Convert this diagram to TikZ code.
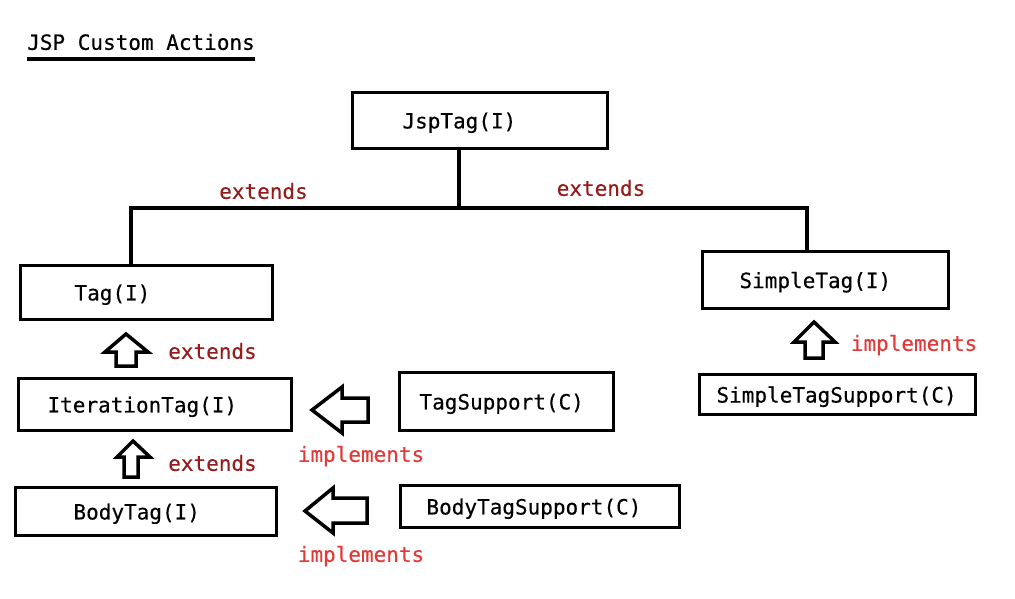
\documentclass[tikz,border=0pt]{standalone}
\usepackage{fontspec}
\setmonofont[FakeBold=0.3]{DejaVu Sans Mono}
\usepackage{tikz}
\usetikzlibrary{positioning}
\definecolor{ExtRed}{HTML}{941C1C}
\definecolor{ImplRed}{HTML}{E03A3A}
\newcommand{\consfont}{\fontsize{21}{25}\selectfont\ttfamily}
\tikzset{
  tagbox/.style={draw, line width=3.5pt, font=\consfont, inner xsep=0pt, inner ysep=0pt, align=left, text depth=0pt},
  extlabel/.style={font=\consfont, text=ExtRed, inner sep=0pt},
  impllabel/.style={font=\consfont, text=ImplRed, inner sep=0pt},
  link/.style={line width=3.5pt},
  hollow/.style={draw, line width=3.5pt, fill=white, line join=miter},
}

\begin{document}
\begin{tikzpicture}[x=1pt, y=-1pt]
  \useasboundingbox (0,0) rectangle (1015,599);

  % title
  \node[font=\consfont, inner sep=0pt] (title) at (141,42) {JSP Custom Actions};
  \draw[line width=3.5pt] (title.west |- 0,59) -- (title.east |- 0,59);

  % interfaces and classes
  \node[tagbox, text width=255pt, minimum height=56pt] (jsp) at (480,120.5) {\hspace*{50pt}JspTag(I)};
  \node[tagbox, text width=252pt, minimum height=54pt] (tag) at (146.5,292.5) {\hspace*{54pt}Tag(I)};
  \node[tagbox, text width=273pt, minimum height=52pt] (iter) at (155,404.5) {\hspace*{29pt}IterationTag(I)};
  \node[tagbox, text width=261pt, minimum height=48pt] (body) at (146,511.5) {\hspace*{58pt}BodyTag(I)};
  \node[tagbox, text width=214pt, minimum height=58pt] (tsup) at (506.5,401.5) {\hspace*{20pt}TagSupport(C)};
  \node[tagbox, text width=279pt, minimum height=42pt] (btsup) at (540,506.5) {\hspace*{26pt}BodyTagSupport(C)};
  \node[tagbox, text width=246pt, minimum height=57pt] (stag) at (825.5,280) {\hspace*{37pt}SimpleTag(I)};
  \node[tagbox, text width=276pt, minimum height=40pt] (sts) at (837.5,394.5) {\hspace*{17pt}SimpleTagSupport(C)};

  % extends tree
  \coordinate (fork) at (459,208);
  \draw[link] ([xshift=-21pt]jsp.south) -- (fork);
  \draw[link] ([xshift=-15.5pt]tag.north) |- (fork) -| ([xshift=-18.5pt]stag.north);
  \node[extlabel] (ext1) at (263.5,191) {extends};
  \node[extlabel] (ext2) at (601,188) {extends};

  % hollow arrows
  \draw[hollow] (126,334) -- (148,352) -- (136,352) -- (136,366) -- (116,366) -- (116,352) -- (105,352) -- cycle;
  \draw[hollow] (133,441) -- (150,457) -- (138,457) -- (138,477) -- (124,477) -- (124,457) -- (117,457) -- cycle;
  \draw[hollow] (814,322) -- (835,342) -- (823,342) -- (823,358) -- (805,358) -- (805,342) -- (794,342) -- cycle;
  \draw[hollow] (312,410) -- (342,387) -- (342,398) -- (368,398) -- (368,422) -- (342,422) -- (342,433) -- cycle;
  \draw[hollow] (305,511) -- (333,488) -- (333,498) -- (367,498) -- (367,523) -- (333,523) -- (333,533) -- cycle;

  % arrow labels
  \node[extlabel] (ext3) at (212.5,351) {extends};
  \node[extlabel] (ext4) at (212.5,463) {extends};
  \node[impllabel] (impl1) at (361,456) {implements};
  \node[impllabel] (impl2) at (361,556) {implements};
  \node[impllabel] (impl3) at (914,345) {implements};
\end{tikzpicture}
\end{document}
